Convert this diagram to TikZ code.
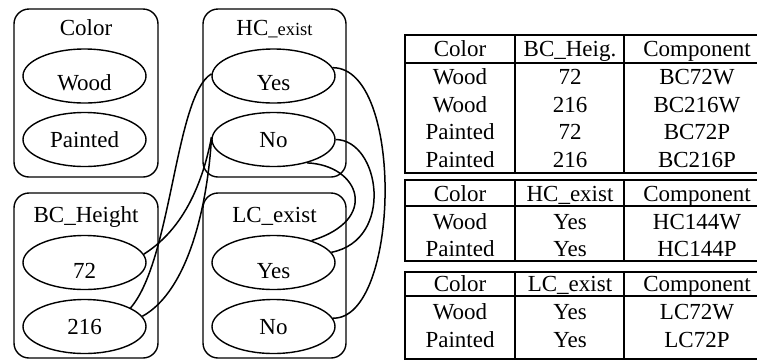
\documentclass[tikz,border=0pt]{standalone}
\usepackage{fontspec}
\setmainfont{Liberation Serif}
\usetikzlibrary{shapes.geometric}
\begin{document}
\begin{tikzpicture}[x=1pt,y=-1pt,
  txt/.style={font=\fontsize{23}{27}\selectfont, anchor=base, inner sep=0},
  cluster/.style={draw, rounded corners=15pt, line width=1.4pt, minimum width=144pt, minimum height=168pt, inner sep=0},
  val/.style={draw, ellipse, line width=1.4pt, minimum width=123pt, minimum height=54pt, inner sep=0},
  link/.style={line width=1.5pt},
  tbl/.style={line width=1.8pt}]
\useasboundingbox (0,0) rectangle (757,360);
% clusters
\node[cluster] (color) at (86,93) {};
\node[cluster, minimum width=143pt] (hc) at (274.5,93) {};
\node[cluster, minimum height=165pt] (bc) at (86,275.5) {};
\node[cluster, minimum width=143pt, minimum height=165pt] (lc) at (274.5,275.5) {};
\node[txt] (colorl) at (86,35.6) {Color};
\node[txt] (hcl) at (274.5,35.6) {HC{\fontsize{18.5}{22}\selectfont\_exist}};
\node[txt] (bcl) at (86,222.6) {BC\_Height};
\node[txt] (lcl) at (274.5,222.6) {LC\_exist};
% values
\node[val] (wood) at (84.5,76) {};
\node[val] (painted) at (84.5,139.5) {};
\node[val] (hcyes) at (273.5,76) {};
\node[val] (hcno) at (273.5,139.5) {};
\node[val] (b72) at (84.5,262.5) {};
\node[val] (b216) at (84.5,326.5) {};
\node[val] (lcyes) at (273.5,262.5) {};
\node[val] (lcno) at (273.5,326.5) {};
\node[txt] (woodt) at (84.5,90.6) {Wood};
\node[txt] (paintedt) at (84.5,147.6) {Painted};
\node[txt] (hcyest) at (273.5,90.6) {Yes};
\node[txt] (hcnot) at (273.5,147.6) {No};
\node[txt] (b72t) at (84.5,278.6) {72};
\node[txt] (b216t) at (84.5,334.6) {216};
\node[txt] (lcyest) at (273.5,278.6) {Yes};
\node[txt] (lcnot) at (273.5,334.6) {No};
% connectors
\draw[link] (hcyes.178) .. controls (175,95) and (172,260) .. (b216.22);
\draw[link] (hcno.178) .. controls (205,170) and (190,225) .. (b72.8);
\draw[link] (hcno.178) .. controls (208,200) and (190,290) .. (b216.10);
\draw[link] (hcyes.8) .. controls (405,68) and (400,320) .. (lcno.8);
\draw[link] (hcno.0) .. controls (380,140) and (395,240) .. (lcyes.10);
\draw[link] (hcno.-35) .. controls (360,165) and (380,220) .. (lcyes.30);
% tables
\draw[tbl] (405,35) rectangle (770,173);
\draw[tbl] (405,63) -- (770,63);
\draw[tbl] (515,35) -- (515,173);
\draw[tbl] (624,35) -- (624,173);
\draw[tbl] (405,180) rectangle (770,261);
\draw[tbl] (405,206) -- (770,206);
\draw[tbl] (515,180) -- (515,261);
\draw[tbl] (624,180) -- (624,261);
\draw[tbl] (405,272) rectangle (770,359);
\draw[tbl] (405,296) -- (770,296);
\draw[tbl] (515,272) -- (515,359);
\draw[tbl] (624,272) -- (624,359);
% table 1
\node[txt] (a11) at (460,56.6) {Color};
\node[txt] (a12) at (570,56.6) {BC\_Heig.};
\node[txt] (a13) at (697,56.6) {Component};
\node[txt] (a21) at (460,84.6) {Wood};
\node[txt] (a22) at (570,84.6) {72};
\node[txt] (a23) at (697,84.6) {BC72W};
\node[txt] (a31) at (460,112.6) {Wood};
\node[txt] (a32) at (570,112.6) {216};
\node[txt] (a33) at (697,112.6) {BC216W};
\node[txt] (a41) at (460,139.6) {Painted};
\node[txt] (a42) at (570,139.6) {72};
\node[txt] (a43) at (697,139.6) {BC72P};
\node[txt] (a51) at (460,167.6) {Painted};
\node[txt] (a52) at (570,167.6) {216};
\node[txt] (a53) at (697,167.6) {BC216P};
% table 2
\node[txt] (b11) at (460,201.6) {Color};
\node[txt] (b12) at (570,201.6) {HC\_exist};
\node[txt] (b13) at (697,201.6) {Component};
\node[txt] (b21) at (460,229.6) {Wood};
\node[txt] (b22) at (570,229.6) {Yes};
\node[txt] (b23) at (697,229.6) {HC144W};
\node[txt] (b31) at (460,256.6) {Painted};
\node[txt] (b32) at (570,256.6) {Yes};
\node[txt] (b33) at (697,256.6) {HC144P};
% table 3
\node[txt] (c11) at (460,291.6) {Color};
\node[txt] (c12) at (570,291.6) {LC\_exist};
\node[txt] (c13) at (697,291.6) {Component};
\node[txt] (c21) at (460,319.6) {Wood};
\node[txt] (c22) at (570,319.6) {Yes};
\node[txt] (c23) at (697,319.6) {LC72W};
\node[txt] (c31) at (460,347.6) {Painted};
\node[txt] (c32) at (570,347.6) {Yes};
\node[txt] (c33) at (697,347.6) {LC72P};
\end{tikzpicture}
\end{document}
